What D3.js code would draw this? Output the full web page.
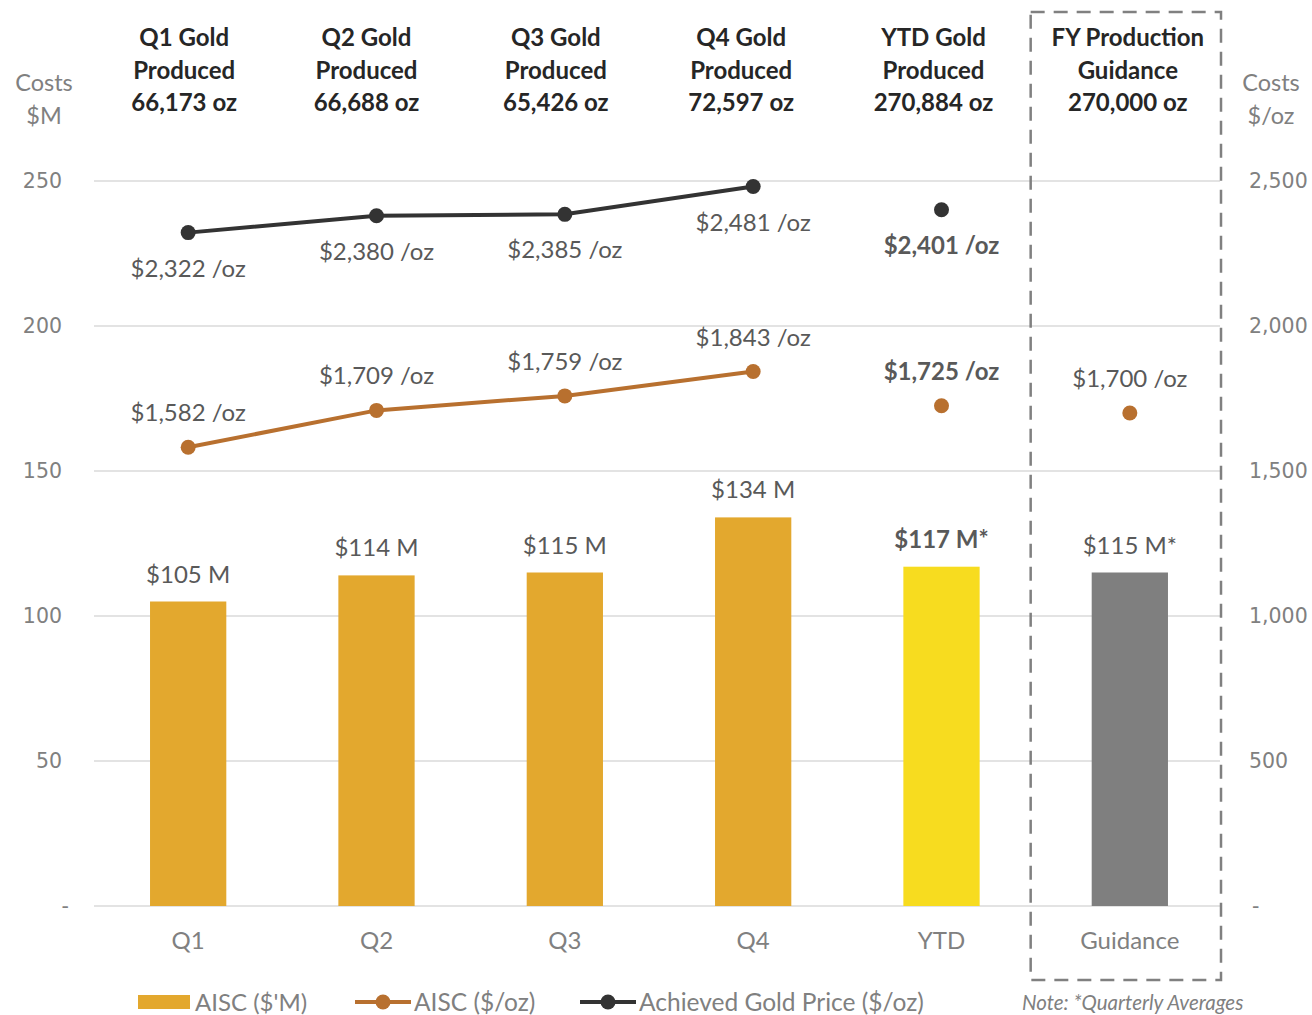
<!DOCTYPE html>
<html>
<head>
<meta charset="utf-8">
<script src="https://cdn.jsdelivr.net/npm/d3@7"></script>
<style>
  body { margin: 0; background: #fff; }
  svg { display: block; }
</style>
</head>
<body>
<div id="container"></div>
<script>
// categories and values
var categories = ["Q1", "Q2", "Q3", "Q4", "YTD", "Guidance"];
var headerLines = [
  ["Q1 Gold", "Produced", "66,173 oz"],
  ["Q2 Gold", "Produced", "66,688 oz"],
  ["Q3 Gold", "Produced", "65,426 oz"],
  ["Q4 Gold", "Produced", "72,597 oz"],
  ["YTD Gold", "Produced", "270,884 oz"],
  ["FY Production", "Guidance", "270,000 oz"]
];
var aiscM = [105, 114, 115, 134, 117, 115];
var aiscMLabels = ["$105 M", "$114 M", "$115 M", "$134 M", "$117 M*", "$115 M*"];
var aiscOz = [1582, 1709, 1759, 1843, 1725, 1700];
var goldPrice = [2322, 2380, 2385, 2481, 2401, null];
var leftTicks = [0, 50, 100, 150, 200, 250];
var rightTicks = [0, 500, 1000, 1500, 2000, 2500];

var width = 1312, height = 1015,
  plotLeft = 94, plotRight = 1224, plotTop = 181, plotBottom = 906;

var barColor = "#E3A82E", ytdColor = "#F7DC1F", guideColor = "#7F7F7F",
  aiscColor = "#B8702F", goldColor = "#333333",
  labelColor = "#595959", tickColor = "#808080", gridColor = "#E3E3E3";
var font = "Lato, 'Open Sans', sans-serif";

var svg = d3.select("#container").append("svg")
  .attr("width", width).attr("height", height)
  .style("font-family", font);

var x = d3.scaleBand().domain(categories).range([plotLeft, plotRight]).padding(0);
var yL = d3.scaleLinear().domain([0, 250]).range([plotBottom, plotTop]);
var yR = d3.scaleLinear().domain([0, 2500]).range([plotBottom, plotTop]);
var cx = function (c) { return x(c) + x.bandwidth() / 2; };
var barW = x.bandwidth() * 0.405;

// gridlines
svg.append("g").selectAll("line").data(leftTicks).join("line")
  .attr("x1", plotLeft).attr("x2", plotRight - 4)
  .attr("y1", d => yL(d)).attr("y2", d => yL(d))
  .attr("stroke", gridColor).attr("stroke-width", 2);

// axes
var fmtTick = function (d) { return d === 0 ? "-" : d3.format(",")(d); };
var gL = svg.append("g").attr("transform", "translate(" + 72 + ",0)")
  .call(d3.axisLeft(yL).tickValues(leftTicks).tickFormat(fmtTick).tickSize(0).tickPadding(10));
var gR = svg.append("g").attr("transform", "translate(" + 1239 + ",0)")
  .call(d3.axisRight(yR).tickValues(rightTicks).tickFormat(fmtTick).tickSize(0).tickPadding(10));
[gL, gR].forEach(function (g) {
  g.select(".domain").remove();
  g.selectAll(".tick text")
    .style("font-family", "'DejaVu Sans', sans-serif")
    .style("font-size", "20.5px").attr("fill", tickColor);
});
gL.selectAll(".tick text").attr("dx", d => d === 0 ? 7 : 0);
gR.selectAll(".tick text").attr("dx", d => d === 0 ? 3 : 0);

// category axis labels
svg.append("g").selectAll("text").data(categories).join("text")
  .attr("x", d => cx(d)).attr("y", 949)
  .attr("text-anchor", "middle").attr("fill", tickColor)
  .style("font-size", "24px").text(d => d);

// axis titles
[["Costs", "$M", 44], ["Costs", "$/oz", 1271]].forEach(function (t) {
  svg.append("text").attr("x", t[2]).attr("y", 91).attr("text-anchor", "middle")
    .attr("fill", tickColor).style("font-size", "23.5px").text(t[0]);
  svg.append("text").attr("x", t[2]).attr("y", 124).attr("text-anchor", "middle")
    .attr("fill", tickColor).style("font-size", "23.5px").text(t[1]);
});

// headers
var headerShift = [-4, -10, -9, -12, -8, -2];
headerLines.forEach(function (lines, i) {
  var t = svg.append("text").attr("text-anchor", "middle")
    .attr("fill", "#262626").style("font-size", "24px").style("font-weight", "bold");
  lines.forEach(function (l, j) {
    t.append("tspan").attr("x", cx(categories[i]) + headerShift[i])
      .attr("y", 46 + j * 32.5).text(l);
  });
});

// bars
var barFill = function (d, i) { return i === 4 ? ytdColor : i === 5 ? guideColor : barColor; };
svg.append("g").selectAll("rect").data(aiscM).join("rect")
  .attr("x", (d, i) => cx(categories[i]) - barW / 2)
  .attr("y", d => yL(d))
  .attr("width", barW)
  .attr("height", d => yL(0) - yL(d))
  .attr("fill", barFill);

svg.append("g").selectAll("text").data(aiscM).join("text")
  .attr("x", (d, i) => cx(categories[i]))
  .attr("y", d => yL(d) - 19)
  .attr("text-anchor", "middle").attr("fill", labelColor)
  .style("font-size", "24px")
  .style("font-weight", (d, i) => i === 4 ? "bold" : "normal")
  .text((d, i) => aiscMLabels[i]);

// lines (quarters only), separate markers for YTD / Guidance
var line = function (scale) {
  return d3.line().x(d => cx(d.c)).y(d => scale(d.v));
};
function series(vals) {
  return vals.map((v, i) => ({ c: categories[i], v: v, i: i })).filter(d => d.v != null);
}
var aiscData = series(aiscOz), goldData = series(goldPrice);

svg.append("path").datum(aiscData.filter(d => d.i < 4))
  .attr("d", line(yR)).attr("fill", "none")
  .attr("stroke", aiscColor).attr("stroke-width", 4);
svg.append("path").datum(goldData.filter(d => d.i < 4))
  .attr("d", line(yR)).attr("fill", "none")
  .attr("stroke", goldColor).attr("stroke-width", 4);

svg.append("g").selectAll("circle").data(aiscData).join("circle")
  .attr("cx", d => cx(d.c)).attr("cy", d => yR(d.v)).attr("r", 7.5).attr("fill", aiscColor);
svg.append("g").selectAll("circle").data(goldData).join("circle")
  .attr("cx", d => cx(d.c)).attr("cy", d => yR(d.v)).attr("r", 7.5).attr("fill", goldColor);

var fmtOz = function (v) { return "$" + d3.format(",")(v) + " /oz"; };
svg.append("g").selectAll("text").data(aiscData).join("text")
  .attr("x", d => cx(d.c)).attr("y", d => yR(d.v) - 26)
  .attr("text-anchor", "middle").attr("fill", labelColor)
  .style("font-size", "24px")
  .style("font-weight", d => d.i === 4 ? "bold" : "normal")
  .text(d => fmtOz(d.v));
svg.append("g").selectAll("text").data(goldData).join("text")
  .attr("x", d => cx(d.c)).attr("y", d => yR(d.v) + 44)
  .attr("text-anchor", "middle").attr("fill", labelColor)
  .style("font-size", "24px")
  .style("font-weight", d => d.i === 4 ? "bold" : "normal")
  .text(d => fmtOz(d.v));

// dashed guidance box
svg.append("rect")
  .attr("x", x("Guidance") - 5).attr("y", 12)
  .attr("width", x.bandwidth() + 2).attr("height", 968)
  .attr("fill", "none").attr("stroke", "#808080")
  .attr("stroke-width", 2.5).attr("stroke-dasharray", "14,9");

// legend
var lg = svg.append("g").attr("transform", "translate(0,1002)");
lg.append("rect").attr("x", 138).attr("y", -7).attr("width", 52).attr("height", 14).attr("fill", barColor);
lg.append("text").attr("x", 195).attr("y", 9).attr("fill", tickColor).style("font-size", "24px").text("AISC ($'M)");
[[355, aiscColor, "AISC ($/oz)"], [580, goldColor, "Achieved Gold Price ($/oz)"]].forEach(function (l) {
  lg.append("line").attr("x1", l[0]).attr("x2", l[0] + 56).attr("y1", 0).attr("y2", 0)
    .attr("stroke", l[1]).attr("stroke-width", 4);
  lg.append("circle").attr("cx", l[0] + 28).attr("cy", 0).attr("r", 7.5).attr("fill", l[1]);
  lg.append("text").attr("x", l[0] + 59).attr("y", 9).attr("fill", tickColor)
    .style("font-size", "24.5px").text(l[2]);
});

svg.append("text").attr("x", 1022).attr("y", 1010).attr("fill", tickColor)
  .style("font-size", "20.5px").style("font-style", "italic").text("Note: *Quarterly Averages");
</script>
</body>
</html>
